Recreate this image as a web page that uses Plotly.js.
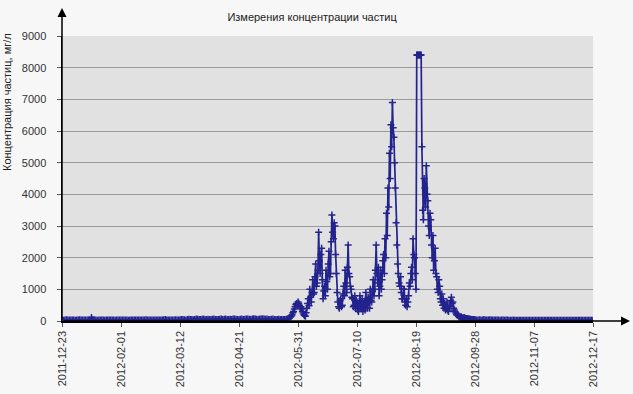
<!DOCTYPE html>
<html>
<head>
<meta charset="utf-8">
<script src="https://cdn.plot.ly/plotly-3.0.1.min.js"></script>
<style>html,body{margin:0;padding:0;background:#f7f7f7;}#chart{width:633px;height:394px;}</style>
</head>
<body>
<div id="chart"></div>
<script>
// Daily readings from 2011-12-23 to 2012-05-25
const startBefore = '2011-12-23';
const concentrationBefore = [
  30,25,35,40,30,28,32,35,30,25,30,35,40,30,28,30,32,35,30,40,
  110,45,
  30,28,25,30,35,30,28,25,30,32,30,28,35,30,25,30,28,30,32,35,30,28,30,25,30,35,30,28,
  30,32,35,30,28,30,35,40,30,32,30,28,35,30,30,32,28,30,35,40,45,35,30,32,30,28,35,40,30,35,
  40,45,50,40,35,45,55,50,45,40,50,60,55,45,50,55,60,50,45,55,50,45,55,60,50,45,50,55,60,50,
  55,60,50,45,55,50,60,65,55,50,45,55,60,50,55,60,65,55,50,60,70,60,55,50,60,65,70,60,55,60,
  50,45,55,60,50,45,50,55,50,45,50,
  45,55,70,90
];
// Twice-daily readings (00:00 and 12:00) from 2012-05-26 to 2012-09-27
const startSeason = '2012-05-26';
const concentrationSeason = [
  130,160, 200,260, 300,380, 450,520, 550,480, 600,560, 500,420, 450,380, 300,250, 200,170,
  150,260, 400,550, 700,480, 1000,750, 600,900, 1300,850, 900,1400, 1800,1100, 1200,1600, 2800,1900,
  1500,2100, 2300,1300, 700,950, 1100,800, 1600,1250, 1000,1800, 2200,1400, 1500,2500, 3350,2800, 2600,3100,
  3000,2100, 1500,900, 600,450, 400,650, 700,450, 500,850, 1100,800, 1600,1200, 900,1700, 2400,1500,
  1400,1100, 1000,750, 700,450, 500,800, 400,650, 600,350, 300,550, 800,450, 400,700, 300,550,
  600,350, 900,500, 400,750, 700,400, 1000,650, 600,950, 1300,800, 1000,1600, 2400,1500, 1200,1700,
  800,1100, 1600,1000, 1300,1900, 2100,1500, 2600,2000, 3400,2700, 4200,3600, 5300,4500, 6200,5500, 6900,6100,
  5800,5000, 4200,3100, 2400,1800, 1500,1200, 1100,1400, 900,700, 700,1000, 1000,600, 500,700, 450,600,
  800,1200, 1100,1500, 1700,1300, 2600,2100, 2000,1500, 1000,8400, 8400,8400, 8400,8400, 8400,8400, 5500,3500,
  3200,4500, 4200,3600, 4900,4000, 3800,3000, 2700,3400, 3200,2400, 2000,2700, 1600,1900, 2300,1500, 1400,1000,
  900,1300, 1100,700, 600,850, 500,700, 400,550, 350,450, 600,350, 300,450, 500,650, 750,550,
  600,400, 350,300, 250,200, 200,170, 150,130, 120,140, 110,90, 90,110, 100,80, 80,70,
  70,65, 60,55, 55,50, 50,45, 45,40
];
// Daily readings from 2012-09-28 to 2012-12-17
const startAfter = '2012-09-28';
const concentrationAfter = [
  45,
  30,35,40,30,35,45,30,28,35,40,
  30,32,35,30,28,30,25,30,28,25,
  30,28,25,22,25,28,25,22,20,25,
  22,20,25,22,20,22,25,20,22,20,
  25,22,20,22,20,25,22,20,22,20,
  20,22,25,20,22,20,22,25,20,22,
  20,22,20,25,22,20,22,20,22,20,
  22,20,25,22,20,22,20,22,20,22
];
const tickDates = ['2011-12-23','2012-02-01','2012-03-12','2012-04-21','2012-05-31','2012-07-10','2012-08-19','2012-09-28','2012-11-07','2012-12-17'];
const yTicks = [0,1000,2000,3000,4000,5000,6000,7000,8000,9000];

function stamps(start, n, stepHours) {
  const t0 = Date.parse(start + 'T00:00:00Z');
  const out = [];
  for (let i = 0; i < n; i++) {
    out.push(new Date(t0 + i * stepHours * 3600000).toISOString().slice(0, 16).replace('T', ' '));
  }
  return out;
}
const xs = [].concat(
  stamps(startBefore, concentrationBefore.length, 24),
  stamps(startSeason, concentrationSeason.length, 12),
  stamps(startAfter, concentrationAfter.length, 24)
);
const ys = [].concat(concentrationBefore, concentrationSeason, concentrationAfter);

const navy = '#23238e';
const trace = {
  x: xs, y: ys, type: 'scatter', mode: 'lines+markers',
  line: {color: navy, width: 1.7},
  marker: {symbol: 'cross-thin', size: 5, line: {color: navy, width: 1.5}, color: navy},
  hoverinfo: 'x+y'
};

const font = {family: '"Liberation Sans", Arial, sans-serif', size: 11, color: '#333'};
const layout = {
  width: 633, height: 394,
  margin: {l: 62, r: 40, t: 36, b: 73},
  paper_bgcolor: '#f7f7f7',
  plot_bgcolor: '#e1e1e1',
  showlegend: false,
  font: font,
  title: {text: 'Измерения концентрации частиц', font: {family: font.family, size: 11, color: '#222'}, x: 0.493, xref: 'container', y: 0.957, yref: 'container', xanchor: 'center', yanchor: 'middle'},
  xaxis: {
    type: 'date', range: [tickDates[0], tickDates[tickDates.length-1]],
    tickvals: tickDates, ticktext: tickDates, tickangle: -90,
    showgrid: false, zeroline: false, showline: true, linecolor: '#000', linewidth: 1.5,
    ticks: 'outside', ticklen: 4, tickcolor: '#555', tickfont: font
  },
  yaxis: {
    range: [0, 9000], tickvals: yTicks, ticktext: yTicks.map(String),
    showgrid: true, gridcolor: '#9a9a9a', gridwidth: 1, zeroline: false,
    showline: true, linecolor: '#000', linewidth: 1.5,
    ticks: 'outside', ticklen: 4, tickcolor: '#555', tickfont: font, ticklabelstandoff: 8
  },
  annotations: [
    {xref: 'paper', yref: 'paper', x: 0, y: 1.098, ax: 0, ay: 313, axref: 'pixel', ayref: 'pixel',
     showarrow: true, arrowhead: 2, arrowsize: 1.2, arrowwidth: 1.5, arrowcolor: '#000', text: ''},
    {xref: 'paper', yref: 'paper', x: 1.0697, y: 0, ax: -568, ay: 0, axref: 'pixel', ayref: 'pixel',
     showarrow: true, arrowhead: 2, arrowsize: 1.2, arrowwidth: 1.5, arrowcolor: '#000', text: ''},
    {xref: 'paper', yref: 'paper', x: -62/531 + 7/531, y: (321-102)/285, xanchor: 'center', yanchor: 'middle',
     showarrow: false, textangle: -90, text: 'Концентрация частиц, мг/л', font: {family: font.family, size: 11, color: '#222'}}
  ]
};

Plotly.newPlot('chart', [trace], layout, {displayModeBar: false, staticPlot: true});
</script>
</body>
</html>
